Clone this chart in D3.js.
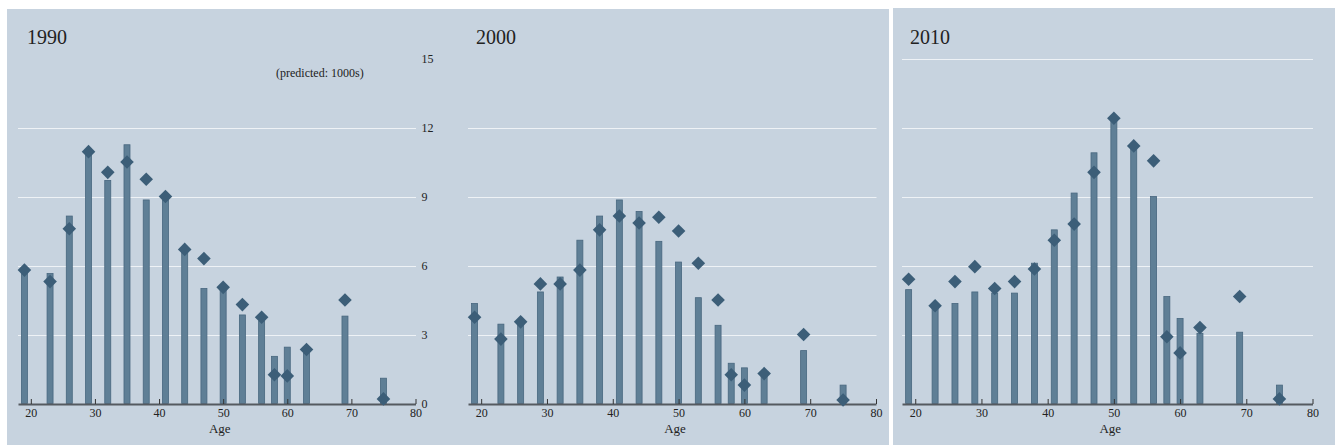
<!DOCTYPE html>
<html>
<head>
<meta charset="utf-8">
<script src="https://cdn.jsdelivr.net/npm/d3@7"></script>
<style>
  html, body { margin: 0; padding: 0; background: #ffffff; }
  svg { display: block; }
  text { font-family: "Liberation Serif", "DejaVu Serif", serif; fill: #222; }
</style>
</head>
<body>
<svg id="chart" width="1335" height="445"></svg>
<script>
// Age groups (x positions of the bars)
const ages = [19, 23, 26, 29, 32, 35, 38, 41, 44, 47, 50, 53, 56, 58, 60, 63, 69, 75];

// Observed counts (1000s), drawn as bars
const observed1990 = [5.75, 5.65, 8.15, 10.95, 9.7, 11.25, 8.85, 8.85, 6.6, 5.0, 4.95, 3.85, 3.6, 2.05, 2.45, 2.2, 3.8, 1.1];
const observed2000 = [4.35, 3.45, 3.45, 4.85, 5.5, 7.1, 8.15, 8.85, 8.35, 7.05, 6.15, 4.6, 3.4, 1.75, 1.55, 1.2, 2.3, 0.8];
const observed2010 = [4.95, 4.2, 4.35, 4.85, 4.8, 4.8, 6.1, 7.55, 9.15, 10.9, 12.3, 11.1, 9.0, 4.65, 3.7, 3.05, 3.1, 0.8];

// Predicted counts (1000s), drawn as diamonds
const predicted1990 = [5.8, 5.3, 7.6, 10.95, 10.05, 10.5, 9.75, 9.0, 6.7, 6.3, 5.05, 4.3, 3.75, 1.25, 1.2, 2.35, 4.5, 0.2];
const predicted2000 = [3.75, 2.8, 3.55, 5.2, 5.2, 5.8, 7.55, 8.15, 7.85, 8.1, 7.5, 6.1, 4.5, 1.25, 0.8, 1.3, 3.0, 0.15];
const predicted2010 = [5.4, 4.25, 5.3, 5.95, 5.0, 5.3, 5.85, 7.1, 7.8, 10.05, 12.4, 11.2, 10.55, 2.9, 2.2, 3.3, 4.65, 0.2];

const years = ["1990", "2000", "2010"];
const xTicks = [20, 30, 40, 50, 60, 70, 80];
const yTicks = [0, 3, 6, 9, 12, 15];

const series = [
  { year: years[0], observed: observed1990, predicted: predicted1990 },
  { year: years[1], observed: observed2000, predicted: predicted2000 },
  { year: years[2], observed: observed2010, predicted: predicted2010 }
];

const svg = d3.select("#chart");
const BG = "#c7d3df";
const BAR = "#5f7f96";
const BAR_EDGE = "#48677f";
const DOT = "#3c5e78";
const AXIS = "#555a60";
const GRID = "#eef2f6";

// Panel backgrounds: the first two share one field, the third stands apart
svg.append("rect").attr("x", 7).attr("y", 9).attr("width", 882).attr("height", 436).attr("fill", BG);
svg.append("rect").attr("x", 893).attr("y", 8).attr("width", 442).attr("height", 437).attr("fill", BG);

const panels = [
  { x0: 18, x1: 415.5, gridTop: 12, yAxis: true, titleX: 27 },
  { x0: 468, x1: 876, gridTop: 12, yAxis: false, titleX: 476 },
  { x0: 902, x1: 1312.5, gridTop: 15, yAxis: false, titleX: 910 }
];

const y = d3.scaleLinear().domain([0, 15]).range([403.5, 58.5]);
const barW = 6;

// Diamond marker centred on (0,0)
const half = 6.8;
const diamond = `M0,${-half}L${half},0L0,${half}L${-half},0Z`;

panels.forEach((p, i) => {
  const s = series[i];
  const x = d3.scaleLinear().domain([18, 80]).range([p.x0, p.x1]);
  const g = svg.append("g");

  // Horizontal gridlines
  g.selectAll("line.grid")
    .data(yTicks.filter(t => t > 0 && t <= p.gridTop))
    .join("line")
    .attr("class", "grid")
    .attr("x1", p.x0).attr("x2", p.x1 + 0.5)
    .attr("y1", d => Math.round(y(d)) + 0.5).attr("y2", d => Math.round(y(d)) + 0.5)
    .attr("stroke", GRID).attr("stroke-width", 1.2);

  // Observed bars
  g.selectAll("rect.bar")
    .data(ages.map((a, k) => ({ age: a, v: s.observed[k] })))
    .join("rect")
    .attr("class", "bar")
    .attr("x", d => x(d.age) - barW / 2)
    .attr("y", d => y(d.v))
    .attr("width", barW)
    .attr("height", d => y(0) - y(d.v))
    .attr("fill", BAR)
    .attr("stroke", BAR_EDGE)
    .attr("stroke-width", 0.8);

  // X axis with inward ticks
  const xAxis = d3.axisBottom(x).tickValues(xTicks).tickSize(-5).tickSizeOuter(0).tickPadding(4.5);
  const ax = g.append("g").attr("transform", `translate(0,${y(0) + 0.5})`).call(xAxis);
  ax.select(".domain").attr("stroke", AXIS).attr("stroke-width", 2);
  ax.selectAll(".tick line").attr("stroke", "#333").attr("stroke-width", 1);
  ax.selectAll(".tick text")
    .attr("font-family", "Liberation Serif, serif")
    .attr("font-size", 12).attr("fill", "#333");

  g.append("text")
    .attr("x", (x(18) + x(80)) / 2 + 3)
    .attr("y", 433)
    .attr("text-anchor", "middle")
    .attr("font-size", 13)
    .text("Age");

  // Predicted diamonds
  g.selectAll("path.pred")
    .data(ages.map((a, k) => ({ age: a, v: s.predicted[k] })))
    .join("path")
    .attr("class", "pred")
    .attr("d", diamond)
    .attr("transform", d => `translate(${x(d.age)},${y(d.v)})`)
    .attr("fill", DOT);

  // Panel title
  g.append("text")
    .attr("x", p.titleX).attr("y", 44)
    .attr("font-size", 20)
    .text(s.year);

  if (p.yAxis) {
    const yAxis = d3.axisRight(y).tickValues(yTicks).tickSize(0).tickPadding(6);
    const ay = g.append("g").attr("transform", `translate(${p.x1},0)`).call(yAxis);
    ay.select(".domain").remove();
    ay.selectAll(".tick text")
      .attr("font-family", "Liberation Serif, serif")
      .attr("font-size", 12).attr("fill", "#333");

    g.append("text")
      .attr("x", 276).attr("y", 77)
      .attr("font-size", 12)
      .text("(predicted: 1000s)");
  }
});
</script>
</body>
</html>
